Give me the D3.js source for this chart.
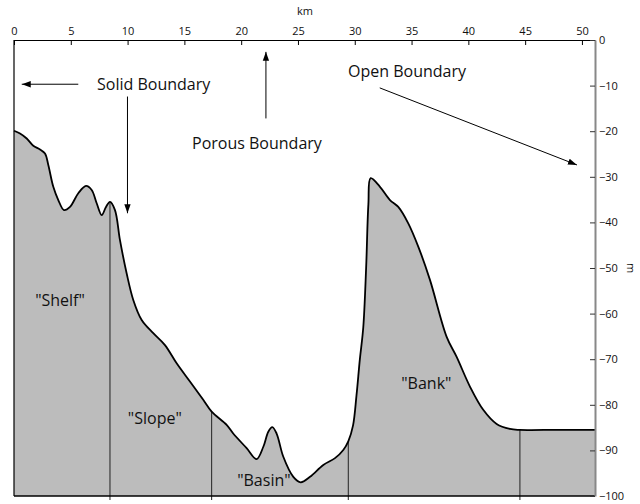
<!DOCTYPE html>
<html><head><meta charset="utf-8">
<script src="https://cdn.jsdelivr.net/npm/d3@7"></script>
<style>
html,body{margin:0;padding:0;background:#fff;}
svg text{font-family:"Open Sans",sans-serif;fill:#111;}
</style></head>
<body>
<svg id="c" width="640" height="504"></svg>
<script>
// Bathymetric profile (distance km, depth m)
const profileKm = [0,0.53,1.12,1.70,2.29,2.73,3.02,3.46,3.9,4.40,4.93,5.66,6.34,6.84,7.28,7.72,8.10,8.45,8.89,9.33,9.92,10.5,11.24,12.26,13.29,14.32,15.49,16.66,17.40,18.72,19.3,20.48,21.36,21.95,22.39,22.74,23.12,23.71,24.59,25.24,26.06,27.23,28.26,28.99,29.43,29.85,30.15,30.45,30.75,31.0,31.2,31.4,32.22,33.10,33.83,34.71,35.59,36.62,38.09,38.97,40.14,41.31,42.49,43.66,44.54,47.8,51.15];
const profileDepth = [-19.9,-20.5,-21.6,-23.2,-24.0,-24.9,-27.4,-32.2,-35.1,-37.3,-36.6,-33.6,-32.0,-32.9,-35.8,-38.4,-36.6,-35.5,-37.3,-43.9,-51.2,-57,-61.4,-64.3,-66.9,-70.9,-74.9,-78.9,-81.5,-84.4,-86.3,-89.5,-91.9,-89.2,-85.9,-84.9,-86.3,-91.4,-95.8,-97.0,-95.8,-93.2,-91.7,-89.9,-88.0,-84.5,-78,-70,-63,-50,-36,-30.3,-32.2,-35.1,-36.6,-40.2,-45.3,-52.6,-65.1,-69.5,-76.0,-81.1,-84.2,-85.3,-85.5,-85.5,-85.5];
const dividerKm = [8.45, 17.40, 29.43, 44.54];
const xTicks = [0,5,10,15,20,25,30,35,40,45,50];
const yTicks = [0,-10,-20,-30,-40,-50,-60,-70,-80,-90,-100];
const regionLabels = ["\"Shelf\"", "\"Slope\"", "\"Basin\"", "\"Bank\""];
const regionKm = [4.05, 12.4, 22.0, 36.3];
const regionDepth = [-58.4, -84.2, -97.8, -76.6];
const boundaryLabels = ["Solid Boundary", "Porous Boundary", "Open Boundary"];
const arrowFrom = [[5.66,-9.7],[9.99,-12.4],[22.18,-17.2],[32.2,-10.5]];
const arrowTo = [[0.68,-9.7],[9.99,-38.0],[22.18,-2.6],[49.56,-27.4]];

const svg = d3.select("#c");
const x = d3.scaleLinear().domain([0, 51.15]).range([14, 595]);
const y = d3.scaleLinear().domain([0, -100]).range([40, 496]);

const pts = profileKm.map((k,i)=>[k, profileDepth[i]]);
const curve = d3.curveCatmullRom.alpha(0.5);

// area
svg.append("path")
  .attr("d", d3.area().x(d=>x(d[0])).y0(y(-100)).y1(d=>y(d[1])).curve(curve)(pts))
  .attr("fill", "#bcbcbc");

// dividers
const interp = k => {
  const i = d3.bisector(d=>d[0]).left(pts, k);
  if (i <= 0) return pts[0][1];
  const a = pts[i-1], b = pts[i];
  return a[1] + (b[1]-a[1])*(k-a[0])/(b[0]-a[0]);
};
svg.selectAll(".div").data(dividerKm).enter().append("line")
  .attr("x1", d=>x(d)).attr("x2", d=>x(d))
  .attr("y1", d=>y(interp(d))).attr("y2", y(-100)+4)
  .attr("stroke", "#222").attr("stroke-width", 1);

// profile line
svg.append("path")
  .attr("d", d3.line().x(d=>x(d[0])).y(d=>y(d[1])).curve(curve)(pts))
  .attr("fill", "none").attr("stroke", "#000").attr("stroke-width", 1.8);

// frame: left and bottom
svg.append("line").attr("x1", x(0)).attr("x2", x(0)).attr("y1", y(0)).attr("y2", y(-100))
  .attr("stroke", "#000").attr("stroke-width", 1.2);
svg.append("line").attr("x1", x(0)).attr("x2", x(51.15)).attr("y1", y(-100)).attr("y2", y(-100))
  .attr("stroke", "#000").attr("stroke-width", 1.5);

// top axis
const gx = svg.append("g").attr("transform", `translate(0,${y(0)})`)
  .call(d3.axisTop(x).tickValues(xTicks).tickSizeInner(-5).tickSizeOuter(0).tickPadding(5));
gx.select(".domain").attr("stroke", "#000").attr("stroke-width", 1.2);
gx.selectAll(".tick line").attr("stroke", "#000");
gx.selectAll("text").style("font-family", "'Open Sans',sans-serif").style("font-size", "11px").attr("fill", "#111");

// right axis
const gy = svg.append("g").attr("transform", `translate(${x(51.15)},0)`)
  .call(d3.axisRight(y).tickValues(yTicks).tickSizeInner(-5).tickSizeOuter(0).tickPadding(4));
gy.select(".domain").attr("stroke", "#888").attr("stroke-width", 2);
gy.selectAll(".tick line").attr("stroke", "#333");
gy.selectAll("text").style("font-family", "'Open Sans',sans-serif").style("font-size", "11px").attr("fill", "#111");

// axis titles
svg.append("text").attr("x", 305).attr("y", 15).attr("text-anchor", "middle")
  .style("font-size", "11px").text("km");
svg.append("text").attr("transform", "translate(627,268) rotate(90)").attr("text-anchor", "middle")
  .style("font-size", "11px").text("m");

// region labels
svg.selectAll(".rl").data(regionLabels).enter().append("text")
  .attr("x", (d,i)=>x(regionKm[i])).attr("y", (d,i)=>y(regionDepth[i]))
  .attr("text-anchor", "middle").style("font-size", "16px").text(d=>d);

// boundary annotations
svg.append("text").attr("x", 97).attr("y", 90).style("font-size", "16px").text(boundaryLabels[0]);
svg.append("text").attr("x", 192).attr("y", 149).style("font-size", "16px").text(boundaryLabels[1]);
svg.append("text").attr("x", 348).attr("y", 77).style("font-size", "16px").text(boundaryLabels[2]);

const defs = svg.append("defs");
defs.append("marker").attr("id", "ah").attr("viewBox", "0 0 10 10")
  .attr("refX", 10).attr("refY", 5).attr("markerWidth", 9).attr("markerHeight", 9)
  .attr("markerUnits", "userSpaceOnUse").attr("orient", "auto")
  .append("path").attr("d", "M0,1.5 L10,5 L0,8.5 Z").attr("fill", "#000");

svg.selectAll(".ar").data(arrowFrom).enter().append("line")
  .attr("x1", d=>x(d[0])).attr("y1", d=>y(d[1]))
  .attr("x2", (d,i)=>x(arrowTo[i][0])).attr("y2", (d,i)=>y(arrowTo[i][1]))
  .attr("stroke", "#000").attr("stroke-width", 1).attr("marker-end", "url(#ah)");
</script>
</body></html>
